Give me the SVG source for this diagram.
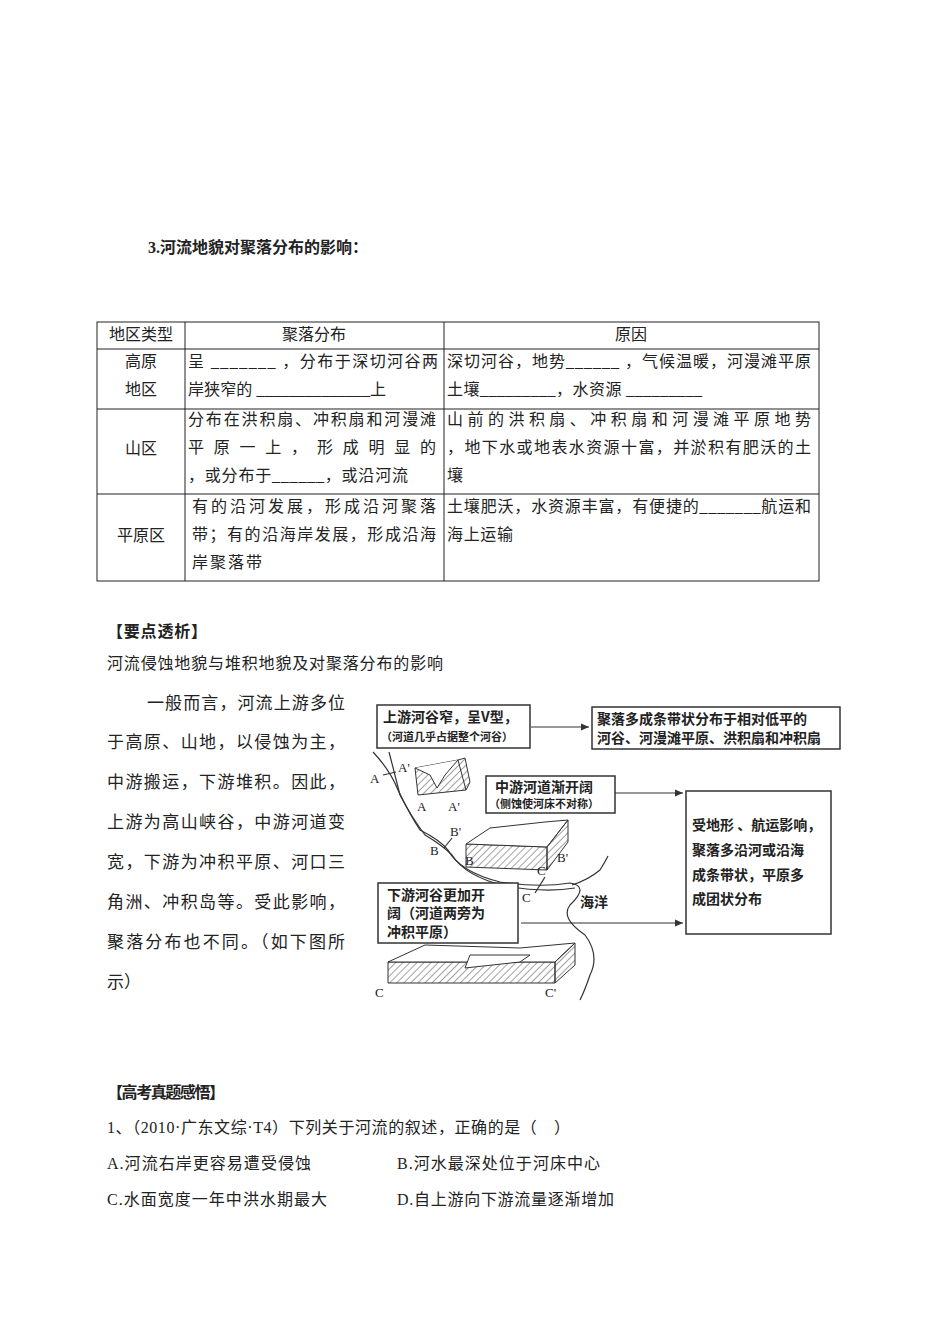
<svg xmlns="http://www.w3.org/2000/svg" width="950" height="1344" viewBox="0 0 950 1344">
<style>
.t{font-family:"Liberation Serif","Noto Sans CJK SC",serif;font-size:16px;fill:#222}
.p{font-family:"Liberation Serif","Noto Sans CJK SC",serif;font-size:17px;fill:#222}
.b{font-weight:bold}
.f{font-family:"Noto Sans CJK SC",sans-serif;font-size:14px;fill:#222;font-weight:bold}
.s{font-family:"Noto Sans CJK SC",sans-serif;font-size:11px;fill:#222;font-weight:bold}
.l{font-family:"Liberation Serif",serif;font-size:13px;fill:#222}
.bx{fill:#fff;stroke:#333;stroke-width:1.5}
.ln{stroke:#222;fill:none;stroke-width:1}
.c{stroke:#333;stroke-width:1.2;fill:none}
</style>
<defs>
<marker id="ar" markerWidth="8" markerHeight="8" refX="7" refY="4" orient="auto"><path d="M0,1 L7,4 L0,7 Z" fill="#333"/></marker>
<pattern id="h" width="5" height="5" patternUnits="userSpaceOnUse" patternTransform="rotate(45)"><line x1="0" y1="0" x2="0" y2="5" stroke="#444" stroke-width="1"/></pattern>
</defs>
<rect width="950" height="1344" fill="#fff"/>
<text class="t b" x="148" y="253" textLength="220">3.河流地貌对聚落分布的影响：</text>
<g id="table">
<rect class="ln" x="97" y="322" width="722" height="259"/>
<line class="ln" x1="185" y1="322" x2="185" y2="581"/>
<line class="ln" x1="444" y1="322" x2="444" y2="581"/>
<line class="ln" x1="97" y1="349" x2="819" y2="349"/>
<line class="ln" x1="97" y1="409" x2="819" y2="409"/>
<line class="ln" x1="97" y1="494" x2="819" y2="494"/>
<text class="t" x="141" y="340" text-anchor="middle">地区类型</text>
<text class="t" x="314" y="340" text-anchor="middle">聚落分布</text>
<text class="t" x="631" y="340" text-anchor="middle">原因</text>
<text class="t" x="141" y="367" text-anchor="middle">高原</text>
<text class="t" x="141" y="395" text-anchor="middle">地区</text>
<text class="t" x="188" y="367" textLength="250">呈 _______ ，分布于深切河谷两</text>
<text class="t" x="188" y="395" textLength="198">岸狭窄的 ______________上</text>
<text class="t" x="447" y="367" textLength="364">深切河谷，地势______ ，气候温暖，河漫滩平原</text>
<text class="t" x="447" y="395" textLength="255">土壤_________，水资源 _________</text>
<text class="t" x="141" y="454" text-anchor="middle">山区</text>
<text class="t" x="188" y="425" textLength="248">分布在洪积扇、冲积扇和河漫滩</text>
<text class="t" x="188" y="453" textLength="248">平 原 一 上 ， 形 成 明 显 的</text>
<text class="t" x="188" y="481" textLength="220">，或分布于______，或沿河流</text>
<text class="t" x="447" y="425" textLength="364">山前的洪积扇、冲积扇和河漫滩平原地势</text>
<text class="t" x="447" y="453" textLength="364">，地下水或地表水资源十富，并淤积有肥沃的土</text>
<text class="t" x="447" y="481">壤</text>
<text class="t" x="141" y="541" text-anchor="middle">平原区</text>
<text class="t" x="192" y="512" textLength="244">有的沿河发展，形成沿河聚落</text>
<text class="t" x="192" y="540" textLength="244">带；有的沿海岸发展，形成沿海</text>
<text class="t" x="192" y="568" textLength="70">岸聚落带</text>
<text class="t" x="447" y="512" textLength="364">土壤肥沃，水资源丰富，有便捷的_______航运和</text>
<text class="t" x="447" y="540" textLength="66">海上运输</text>
</g>
<text class="t b" x="107" y="637" textLength="100">【要点透析】</text>
<text class="t" x="107" y="669" textLength="336">河流侵蚀地貌与堆积地貌及对聚落分布的影响</text>
<g id="para">
<text class="p" x="147" y="709" textLength="198">一般而言，河流上游多位</text>
<text class="p" x="107" y="748" textLength="238">于高原、山地，以侵蚀为主，</text>
<text class="p" x="107" y="788" textLength="238">中游搬运，下游堆积。因此，</text>
<text class="p" x="107" y="828" textLength="238">上游为高山峡谷，中游河道变</text>
<text class="p" x="107" y="868" textLength="238">宽，下游为冲积平原、河口三</text>
<text class="p" x="107" y="908" textLength="238">角洲、冲积岛等。受此影响，</text>
<text class="p" x="107" y="948" textLength="238">聚落分布也不同。（如下图所</text>
<text class="p" x="107" y="988">示）</text>
</g>
<g id="figure">
<g id="river">
<path class="c" d="M373,752 Q390,770 398,790 Q410,815 420,830 Q440,840 448,850 Q460,872 500,882 Q540,888 570,883 Q590,886 570,905 Q560,918 585,935 Q600,955 590,975 Q585,990 580,1000"/>
<path class="c" d="M389,752 Q395,775 400,795 Q412,818 425,835 Q442,845 452,855 Q465,876 505,886 Q545,893 575,888"/>
<path class="c" d="M572,885 Q588,880 600,870 Q605,862 608,856"/>
<line class="c" x1="383" y1="775" x2="396" y2="772"/>
<line class="c" x1="444" y1="848" x2="452" y2="838"/>
<line class="c" x1="535" y1="893" x2="545" y2="877"/>
</g>
<g id="blocks">
<path d="M415,768 L458,760 L466,790 L418,795 Z" fill="url(#h)" stroke="#333"/>
<path d="M415,768 L430,775 L437,788 L445,775 L458,760" fill="#fff" stroke="#333"/>
<path d="M466,790 L470,782 L465,758 L458,760" fill="url(#h)" stroke="#333"/>
<path d="M466,844 L547,847 L547,870 L466,867 Z" fill="url(#h)" stroke="#333"/>
<path d="M466,844 L490,828 L545,822 L568,820 L547,847 Z" fill="#fff" stroke="#333"/>
<path d="M547,847 L568,820 L568,842 L547,870 Z" fill="url(#h)" stroke="#333"/>
<path d="M388,962 L555,962 L555,983 L388,983 Z" fill="url(#h)" stroke="#333"/>
<path d="M388,962 L425,945 L520,948 L575,943 L555,962 Z" fill="#fff" stroke="#333"/>
<path d="M555,962 L575,943 L575,965 L555,983 Z" fill="url(#h)" stroke="#333"/>
<path d="M465,968 L520,962 L530,955 L470,955 Z" fill="#fff" stroke="#333"/>
</g>
<g id="labels">
<text class="l" x="370" y="783">A</text><text class="l" x="398" y="772">A'</text>
<text class="l" x="417" y="811">A</text><text class="l" x="448" y="811">A'</text>
<text class="l" x="430" y="855">B</text><text class="l" x="450" y="836">B'</text>
<text class="l" x="465" y="865">B</text><text class="l" x="557" y="862">B'</text>
<text class="l" x="522" y="902">C</text><text class="l" x="537" y="875">C'</text>
<text class="l" x="375" y="997">C</text><text class="l" x="545" y="997">C'</text>
<text class="f" x="580" y="907">海洋</text>
</g>
<g id="n1"><rect class="bx" x="377" y="705" width="153" height="43"/>
<text class="f" x="383" y="722">上游河谷窄，呈V型，</text><text class="s" x="381" y="741">（河道几乎占据整个河谷）</text></g>
<g id="n2"><rect class="bx" x="592" y="707" width="248" height="42"/>
<text class="f" x="597" y="724">聚落多成条带状分布于相对低平的</text><text class="f" x="597" y="743">河谷、河漫滩平原、洪积扇和冲积扇</text></g>
<g id="n3"><rect class="bx" x="486" y="776" width="129" height="37"/>
<text class="f" x="495" y="792">中游河道渐开阔</text><text class="s" x="489" y="808">（侧蚀使河床不对称）</text></g>
<g id="n4"><rect class="bx" x="686" y="791" width="145" height="143"/>
<text class="f" x="692" y="830">受地形 、航运影响，</text><text class="f" x="692" y="855">聚落多沿河或沿海</text>
<text class="f" x="692" y="880">成条带状，平原多</text><text class="f" x="692" y="904">成团状分布</text></g>
<g id="n5"><rect class="bx" x="378" y="883" width="140" height="60"/>
<text class="f" x="387" y="900">下游河谷更加开</text><text class="f" x="387" y="918">阔（河道两旁为</text><text class="f" x="387" y="937">冲积平原）</text></g>
<g id="connectors">
<line class="c" x1="531" y1="727" x2="589" y2="727" marker-end="url(#ar)"/>
<line class="c" x1="615" y1="793" x2="683" y2="793" marker-end="url(#ar)"/>
<line class="c" x1="521" y1="923" x2="683" y2="923" marker-end="url(#ar)"/>
</g>
</g>
<text class="t b" x="107" y="1098" textLength="118">【高考真题感悟】</text>
<text class="t" x="107" y="1133" textLength="463">1、（2010·广东文综·T4）下列关于河流的叙述，正确的是（　）</text>
<text class="t" x="107" y="1169" textLength="204">A.河流右岸更容易遭受侵蚀</text>
<text class="t" x="397" y="1169" textLength="203">B.河水最深处位于河床中心</text>
<text class="t" x="107" y="1205" textLength="220">C.水面宽度一年中洪水期最大</text>
<text class="t" x="397" y="1205" textLength="217">D.自上游向下游流量逐渐增加</text>
</svg>
